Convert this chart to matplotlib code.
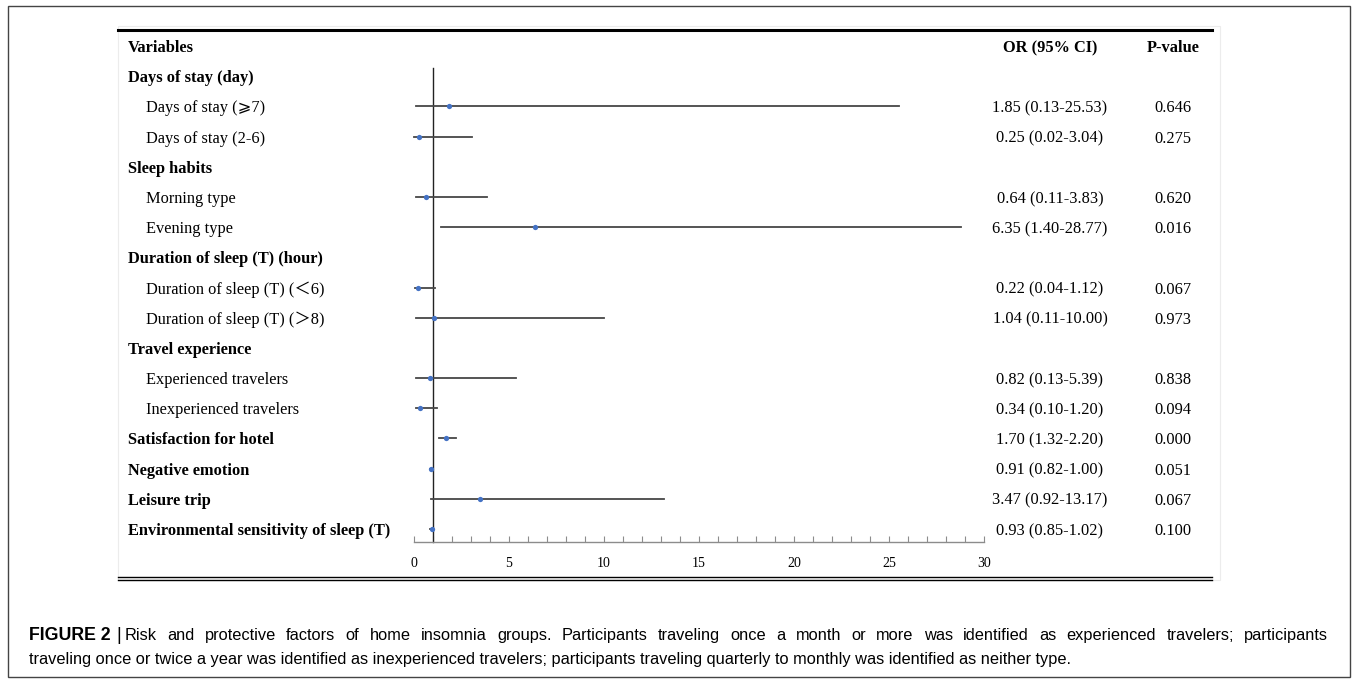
import numpy as np
import matplotlib.pyplot as plt
from matplotlib.transforms import blended_transform_factory
from matplotlib.patches import Rectangle
from matplotlib.lines import Line2D
from matplotlib.font_manager import FontProperties

labels = ["Days of stay (day)", "Days of stay (\u2a7e7)", "Days of stay (2-6)",
          "Sleep habits", "Morning type", "Evening type",
          "Duration of sleep (T) (hour)", "Duration of sleep (T) (\uff1c6)",
          "Duration of sleep (T) (\uff1e8)",
          "Travel experience", "Experienced travelers", "Inexperienced travelers",
          "Satisfaction for hotel", "Negative emotion", "Leisure trip",
          "Environmental sensitivity of sleep (T)"]
is_header = [1, 0, 0, 1, 0, 0, 1, 0, 0, 1, 0, 0, 1, 1, 1, 1]
odds = [np.nan, 1.85, 0.25, np.nan, 0.64, 6.35, np.nan, 0.22, 1.04,
        np.nan, 0.82, 0.34, 1.70, 0.91, 3.47, 0.93]
ci_low = [np.nan, 0.13, 0.02, np.nan, 0.11, 1.40, np.nan, 0.04, 0.11,
          np.nan, 0.13, 0.10, 1.32, 0.82, 0.92, 0.85]
ci_high = [np.nan, 25.53, 3.04, np.nan, 3.83, 28.77, np.nan, 1.12, 10.00,
           np.nan, 5.39, 1.20, 2.20, 1.00, 13.17, 1.02]
pvals = ["", "0.646", "0.275", "", "0.620", "0.016", "", "0.067", "0.973",
         "", "0.838", "0.094", "0.000", "0.051", "0.067", "0.100"]

caption1 = ("Risk and protective factors of home insomnia groups. Participants traveling "
            "once a month or more was identified as experienced travelers; participants")
caption2 = ("traveling once or twice a year was identified as inexperienced travelers; "
            "participants traveling quarterly to monthly was identified as neither type.")

serif = ['Liberation Serif', 'DejaVu Sans', 'Noto Sans CJK SC']
W, H = 1357, 681

fig = plt.figure(figsize=(W / 100, H / 100), dpi=100)

def fx(px):
    return px / W

def fy(py):
    return 1 - py / H

# forest axes: x 0..30 -> px 414..984, rows spaced ~30.2 px
row_h = 30.19
y0_px = 46.0          # "Variables" row
bottom_px = 542.0
ax = fig.add_axes([fx(414), fy(bottom_px), fx(984) - fx(414), (bottom_px - (y0_px - row_h)) / H])
ax.set_xlim(0, 30)
ax.set_ylim((bottom_px - y0_px) / row_h, -1)
for s in ['top', 'right', 'left']:
    ax.spines[s].set_visible(False)
ax.spines['bottom'].set_color('#8c8c8c')
ax.spines['bottom'].set_linewidth(1.0)
ax.set_yticks([])
ax.set_xticks(range(0, 31, 5))
ax.set_xticks(range(0, 31, 1), minor=True)
ax.tick_params(axis='x', which='both', direction='in', color='#8c8c8c', width=0.8, length=4)
ax.tick_params(axis='x', which='major', pad=11, labelsize=10)
for t in ax.get_xticklabels():
    t.set_family(serif)

rows = np.arange(1, len(labels) + 1)
ax.plot([1, 1], [(68 - y0_px) / row_h, (bottom_px - y0_px) / row_h], color='#222222', lw=1.0, clip_on=False)
for r, o, lo, hi in zip(rows, odds, ci_low, ci_high):
    if np.isnan(o):
        continue
    ax.plot([lo, hi], [r, r], color='#474747', lw=1.3, clip_on=False, zorder=2)
    ax.plot([o], [r], 'o', color='#4472c4', ms=3.8, mec='none', clip_on=False, zorder=3)

tr = blended_transform_factory(fig.transFigure, ax.transData)
fs = 11.8
va = 'center_baseline'
ax.text(fx(128), 0, "Variables", transform=tr, ha='left', va=va, fontsize=fs,
        fontweight='bold', family=serif)
ax.text(fx(1050), 0, "OR (95% CI)", transform=tr, ha='center', va=va, fontsize=fs,
        fontweight='bold', family=serif)
ax.text(fx(1173), 0, "P-value", transform=tr, ha='center', va=va, fontsize=fs,
        fontweight='bold', family=serif)
for r, lab, hd, o, lo, hi, p in zip(rows, labels, is_header, odds, ci_low, ci_high, pvals):
    ax.text(fx(128 if hd else 146), r, lab, transform=tr, ha='left', va=va, fontsize=fs,
            fontweight='bold' if hd else 'normal', family=serif, clip_on=False)
    if not np.isnan(o):
        ax.text(fx(1050), r, f"{o:.2f} ({lo:.2f}-{hi:.2f})", transform=tr, ha='center',
                va=va, fontsize=fs, family=serif)
        ax.text(fx(1173), r, p, transform=tr, ha='center', va=va, fontsize=fs, family=serif)

# frame lines
fig.add_artist(Rectangle((fx(118), fy(580)), fx(1220) - fx(118), fy(26) - fy(580),
                         transform=fig.transFigure, fill=False, ec='#ececec', lw=0.8))
fig.add_artist(Line2D([fx(118), fx(1212)], [fy(30), fy(30)], color='black', lw=2.2))
fig.add_artist(Line2D([fx(118), fx(1212)], [fy(576.5), fy(576.5)], color='black', lw=1.0))
fig.add_artist(Line2D([fx(118), fx(1212)], [fy(579.5), fy(579.5)], color='black', lw=1.0))
fig.add_artist(Rectangle((fx(8), fy(677)), fx(1350) - fx(8), fy(6) - fy(677),
                         transform=fig.transFigure, fill=False, ec='#444444', lw=1.0))

# caption: first line justified by word spacing
cap_fs = 11.8
cap_font = ['Liberation Sans', 'DejaVu Sans']
cap_y1, cap_y2 = 634, 658
fig.text(fx(29), fy(cap_y1), "FIGURE 2", fontsize=12.8, fontweight='bold', family=cap_font,
         ha='left', va='center_baseline')
fig.text(fx(116), fy(cap_y1), "|", fontsize=12.8, family=cap_font, ha='left',
         va='center_baseline')
renderer = fig.canvas.get_renderer()
prop = FontProperties(family=cap_font, size=cap_fs)

def tw(s):
    return renderer.get_text_width_height_descent(s, prop, ismath=False)[0]

words = caption1.split()
widths = [tw(w) for w in words]
x_start, x_end = 125.0, 1328.0
gap = (x_end - x_start - sum(widths)) / (len(words) - 1)
x = x_start
for w, wd in zip(words, widths):
    fig.text(fx(x), fy(cap_y1), w, fontsize=cap_fs, family=cap_font, ha='left',
             va='center_baseline')
    x += wd + gap
fig.text(fx(29), fy(cap_y2), caption2, fontsize=cap_fs, family=cap_font, ha='left',
         va='center_baseline')

fig.savefig("out.png", dpi=100)
